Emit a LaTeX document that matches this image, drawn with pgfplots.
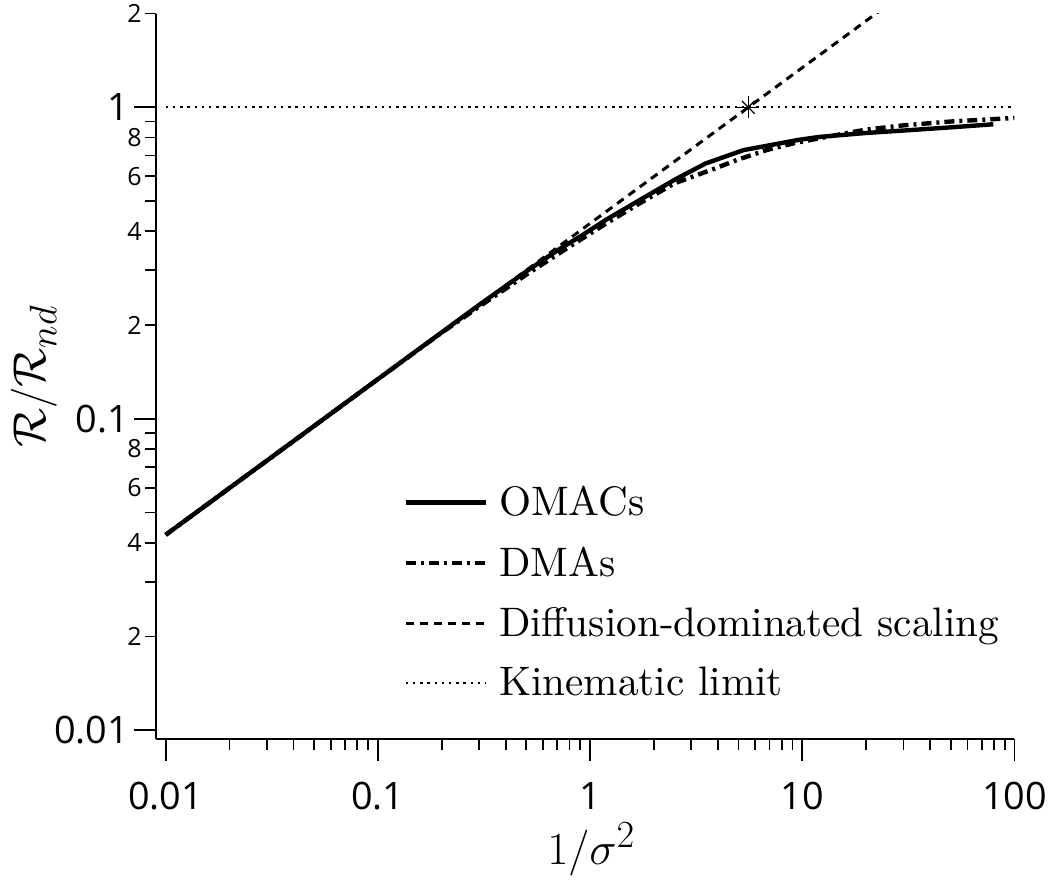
\documentclass[border=0pt]{standalone}
\usepackage{graphicx}
\usepackage{fontspec}
\usepackage{pgfplots}
\pgfplotsset{compat=1.18}
\newfontfamily\ticksf{Open Sans}
\newfontfamily\lmten{lmroman10-regular.otf}
\newcommand{\biglabel}[1]{\scalebox{0.9245}{\fontsize{24.88}{26}\selectfont #1}}

\begin{document}
\begin{tikzpicture}
\useasboundingbox (-78pt,-70.35pt) rectangle (450pt,369.65pt);
\begin{axis}[
  at={(0,0)}, anchor=south west,
  scale only axis, width=429.25pt, height=362.9pt,
  xmode=log, ymode=log,
  xmin=0.0090, xmax=100, ymin=0.00935, ymax=2,
  axis x line*=bottom, axis y line*=left,
  axis line style={line width=1pt, black},
  tick align=outside,
  major tick length=11pt, minor tick length=5.5pt,
  every tick/.style={line width=0.9pt, black},
  xtick={0.01,0.1,1,10,100},
  xticklabels={0.01,0.1,1,10,100},
  minor xtick={0.02,0.03,0.04,0.05,0.06,0.07,0.08,0.09,0.2,0.3,0.4,0.5,0.6,0.7,0.8,0.9,2,3,4,5,6,7,8,9,20,30,40,50,60,70,80,90},
  ytick={0.01,0.1,1},
  yticklabels={0.01,0.1,1},
  minor ytick={0.02,0.03,0.04,0.05,0.06,0.07,0.08,0.09,0.2,0.3,0.4,0.5,0.6,0.7,0.8,0.9,2},
  extra y ticks={0.02,0.04,0.06,0.08,0.2,0.4,0.6,0.8,2},
  extra y tick labels={2,4,6,8,2,4,6,8,2},
  extra y tick style={major tick length=5.5pt, yticklabel style={font=\ticksf\fontsize{12.5}{13}\selectfont, inner sep=1.5pt, xshift=-1pt}},
  xticklabel style={font=\ticksf\fontsize{18.9}{20}\selectfont, yshift=-7pt},
  yticklabel style={font=\ticksf\fontsize{18.9}{20}\selectfont, xshift=1pt},
  every axis x label/.style={at={(axis description cs:0.5,0)}, xshift=3pt, yshift=-55pt, anchor=center},
  every axis y label/.style={at={(axis description cs:0,0.5)}, xshift=-61pt, anchor=center, rotate=90},
  xlabel={\biglabel{$1/\sigma^2$}},
  ylabel={\biglabel{$\mathcal{R}/\mathcal{R}_{nd}$}},
  legend style={draw=none, fill=none, at={(rel axis cs:0.288,0.355)}, anchor=north west,
    font=\lmten\fontsize{20.6}{22}\selectfont, row sep=10pt, column sep=3.5pt, inner sep=0pt},
  legend cell align=left,
  legend image code/.code={\draw[#1] (0pt,0pt) -- (40pt,0pt);},
]
\addplot[black, line width=2.2pt, line join=round] coordinates {
(0.01,0.0424) (0.03,0.0734) (0.1,0.134) (0.2,0.1895) (0.3,0.232) (0.5,0.297)
(0.7,0.347) (0.9,0.385) (1.2,0.437) (1.7,0.502) (2.5,0.585) (3.5,0.66)
(5.3,0.729) (7,0.755) (9.5,0.785) (12,0.803) (20,0.827) (30,0.842) (50,0.862) (79.5,0.882)
};
\addlegendentry{OMACs}
\addplot[black, line width=2.2pt, dash pattern=on 5pt off 2.5pt on 1.5pt off 2.5pt] coordinates {
(0.01,0.0424) (0.03,0.0734) (0.1,0.134) (0.2,0.189) (0.3,0.229) (0.5,0.290)
(0.8,0.357) (1.2,0.425) (1.7,0.49) (2.5,0.57) (3.9,0.637) (5,0.68) (6.8,0.729)
(9,0.765) (12,0.795) (16,0.825) (20,0.848) (30,0.875) (50,0.900) (100,0.924)
};
\addlegendentry{DMAs}
\addplot[black, line width=1.5pt, dash pattern=on 4pt off 3pt] coordinates {
(0.01,0.04238) (40,2.680)
};
\addlegendentry{Diffusion-dominated scaling}
\addplot[black, line width=1.2pt, dash pattern=on 1.2pt off 2.4pt] coordinates {
(0.01,1) (100,1)
};
\addlegendentry{Kinematic limit}
\addplot[black, only marks, mark=+, mark size=5.5pt, mark options={line width=0.6pt}, forget plot] coordinates {(5.567,1)};
\addplot[black, only marks, mark=x, mark size=4.5pt, mark options={line width=0.6pt}, forget plot] coordinates {(5.567,1)};
\end{axis}
\end{tikzpicture}
\end{document}
